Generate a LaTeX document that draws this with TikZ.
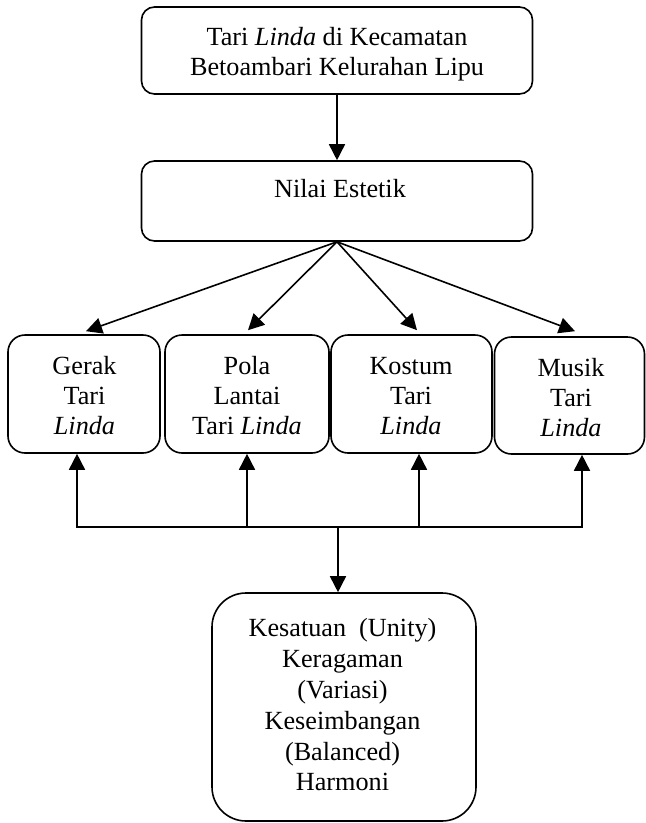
\documentclass[tikz,border=0pt]{standalone}
\usepackage{fontspec}
\setmainfont{Liberation Serif}
\usetikzlibrary{arrows.meta}
\begin{document}
\begin{tikzpicture}[x=1pt,y=-1pt,
  box/.style={draw, line width=1.6pt, inner sep=0pt},
  txt/.style={inner sep=0pt, align=center, font=\fontsize{26.2}{30}\selectfont},
  arr/.style={line width=1.6pt, -{Triangle[length=16pt,width=16pt]}},
  conn/.style={line width=1.6pt}]
\useasboundingbox (0,0) rectangle (646,823);
% boxes
\node[box, rounded corners=13pt, minimum width=391pt, minimum height=87pt] (top) at (337,50.5) {};
\node[box, rounded corners=13pt, minimum width=391pt, minimum height=80pt] (nilai) at (337,201) {};
\node[box, rounded corners=17pt, minimum width=152pt, minimum height=118pt] (gerak) at (84,394) {};
\node[box, rounded corners=17pt, minimum width=164pt, minimum height=118pt] (pola) at (247,394) {};
\node[box, rounded corners=17pt, minimum width=161pt, minimum height=118pt] (kostum) at (411.5,394) {};
\node[box, rounded corners=17pt, minimum width=150pt, minimum height=117pt] (musik) at (569.5,395.5) {};
\node[box, rounded corners=34pt, minimum width=264pt, minimum height=228pt] (bottom) at (344,707) {};
% texts
\node[txt] (toptxt) at (337,53.9) {Tari \textit{Linda} di Kecamatan\\Betoambari Kelurahan Lipu};
\node[txt] (nilaitxt) at (340,189) {Nilai Estetik};
\node[txt] (geraktxt) at (84.5,396) {Gerak\\Tari\\\textit{Linda}};
\node[txt] (polatxt) at (247,396) {Pola\\Lantai\\Tari \textit{Linda}};
\node[txt] (kostumtxt) at (411,396.3) {Kostum\\Tari\\\textit{Linda}};
\node[txt] (musiktxt) at (571,398) {Musik\\Tari\\\textit{Linda}};
\node[txt, font=\fontsize{26.2}{30.8}\selectfont] (bottomtxt) at (342.5,705) {Kesatuan\ \ (Unity)\\Keragaman\\(Variasi)\\Keseimbangan\\(Balanced)\\Harmoni};
% connectors
\draw[arr] (top.south) -- (nilai.north);
\draw[arr] (nilai.south) -- ([xshift=2pt,yshift=3pt]gerak.north);
\draw[arr] (nilai.south) -- ([xshift=1pt,yshift=4pt]pola.north);
\draw[arr] (nilai.south) -- ([xshift=5.5pt,yshift=4pt]kostum.north);
\draw[arr] (nilai.south) -- ([xshift=5.5pt,yshift=5pt]musik.north);
\coordinate (hub) at (338,527);
\draw[arr] (hub) -| ([xshift=-7pt]gerak.south);
\draw[arr] (hub) -| (pola.south);
\draw[arr] (hub) -| ([xshift=7.5pt]kostum.south);
\draw[arr] (hub) -| ([xshift=12.5pt]musik.south);
\draw[arr] (hub) -- (hub |- bottom.north);
\end{tikzpicture}
\end{document}
